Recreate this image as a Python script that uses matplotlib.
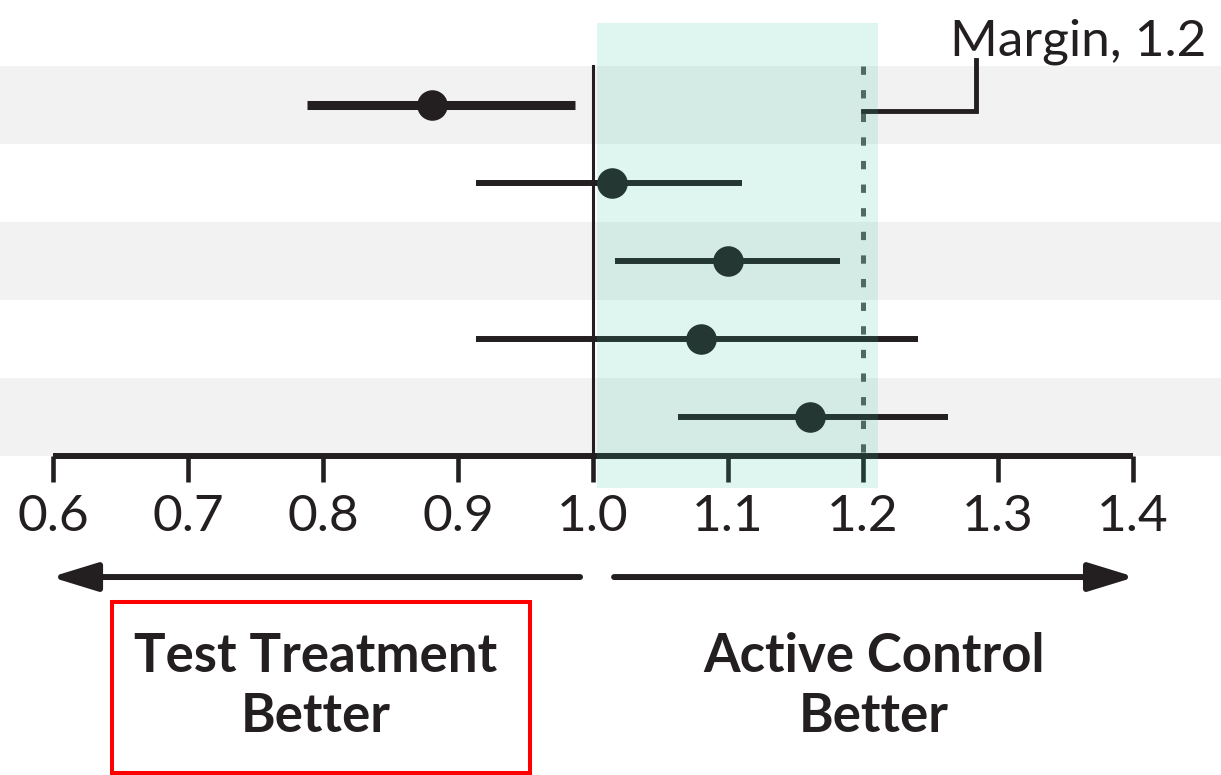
import matplotlib
matplotlib.use("Agg")
import matplotlib.pyplot as plt
from matplotlib.patches import Rectangle

# Values (ratio scale)
estimates = [0.881, 1.014, 1.100, 1.080, 1.161]
lower = [0.788, 0.913, 1.016, 0.913, 1.063]
upper = [0.987, 1.110, 1.183, 1.241, 1.263]
ci_widths = [6.5, 4.3, 4.3, 4.3, 4.3]
x_ticks = [0.6, 0.7, 0.8, 0.9, 1.0, 1.1, 1.2, 1.3, 1.4]
tick_labels = ["0.6", "0.7", "0.8", "0.9", "1.0", "1.1", "1.2", "1.3", "1.4"]
margin = 1.2
null_value = 1.0
margin_label = "Margin, 1.2"
left_label = "Test Treatment\nBetter"
right_label = "Active Control\nBetter"

ink = "#231f20"
band = "#f2f2f2"
teal = "#2dc49d"

plt.rcParams["font.family"] = ["Lato", "DejaVu Sans"]
plt.rcParams["lines.scale_dashes"] = False

fig = plt.figure(figsize=(12.21, 7.75), dpi=100)
ax = fig.add_axes([0, 0, 1, 1])
ax.set_xlim(0.5607, 1.4652)
ax.set_ylim(8.596, -1.340)

n = len(estimates)
rows = list(range(n))

# alternating shaded rows
for r in rows:
    if r % 2 == 0:
        ax.axhspan(r - 0.5, r + 0.5, color=band, lw=0, zorder=0)

# confidence intervals and point estimates
for r, est, lo, hi, w in zip(rows, estimates, lower, upper, ci_widths):
    ax.plot([lo, hi], [r, r], color=ink, lw=w, solid_capstyle="butt", zorder=2)
ax.plot(estimates, rows, "o", color=ink, ms=22, mec="none", zorder=3)

# line of no difference and non-inferiority margin
ax.plot([null_value, null_value], [-0.5, n - 0.5], color=ink, lw=2.2, zorder=2)
ax.plot([margin, margin], [-0.5, n - 0.5], color="#595959", lw=3.6,
        dashes=(6.0, 11.0), zorder=2)

# connector to margin label
ax.plot([margin, 1.2837, 1.2837], [0.083, 0.083, -0.57], color=ink, lw=3.5,
        solid_joinstyle="miter", zorder=2)
ax.text(1.3593, -0.81, margin_label, ha="center", va="center",
        fontsize=37, color=ink)

# shaded zone between 1.0 and the margin (drawn over the marks)
ax.add_patch(Rectangle((1.003, -1.045), 0.208, 5.962, facecolor=teal,
                       alpha=0.15, lw=0, zorder=5))

# x axis at bottom of the rows
for s in ["top", "left", "right"]:
    ax.spines[s].set_visible(False)
ax.spines["bottom"].set_position(("data", n - 0.5))
ax.spines["bottom"].set_bounds(x_ticks[0], x_ticks[-1])
ax.spines["bottom"].set_linewidth(4.3)
ax.spines["bottom"].set_color(ink)
ax.spines["bottom"].set_capstyle("butt")
ax.set_xticks(x_ticks)
ax.set_xticklabels(tick_labels)
ax.tick_params(axis="x", direction="out", length=18.7, width=3.3, color=ink,
               labelsize=37, labelcolor=ink, pad=9)
ax.set_yticks([])

# direction arrows
arrow_y = 6.058
arrow_kw = dict(arrowstyle="-|>,head_length=28,head_width=8.6", color=ink,
                lw=4.3, mutation_scale=1, shrinkA=0, shrinkB=0)
ax.annotate("", xy=(0.5985, arrow_y), xytext=(0.9904, arrow_y), arrowprops=arrow_kw)
ax.annotate("", xy=(1.4015, arrow_y), xytext=(1.0156, arrow_y), arrowprops=arrow_kw)

ax.text(0.7948, 7.46, left_label, ha="center", va="center", fontsize=38,
        fontweight="bold", color=ink, linespacing=1.29)
ax.text(1.208, 7.46, right_label, ha="center", va="center", fontsize=38,
        fontweight="bold", color=ink, linespacing=1.29)

# red highlight box around the left label
ax.add_patch(Rectangle((0.6437, 6.378), 0.3096, 2.192, facecolor="none",
                       edgecolor="#ff0000", lw=2.9, zorder=6, clip_on=False))

fig.savefig("out.png", dpi=100)
